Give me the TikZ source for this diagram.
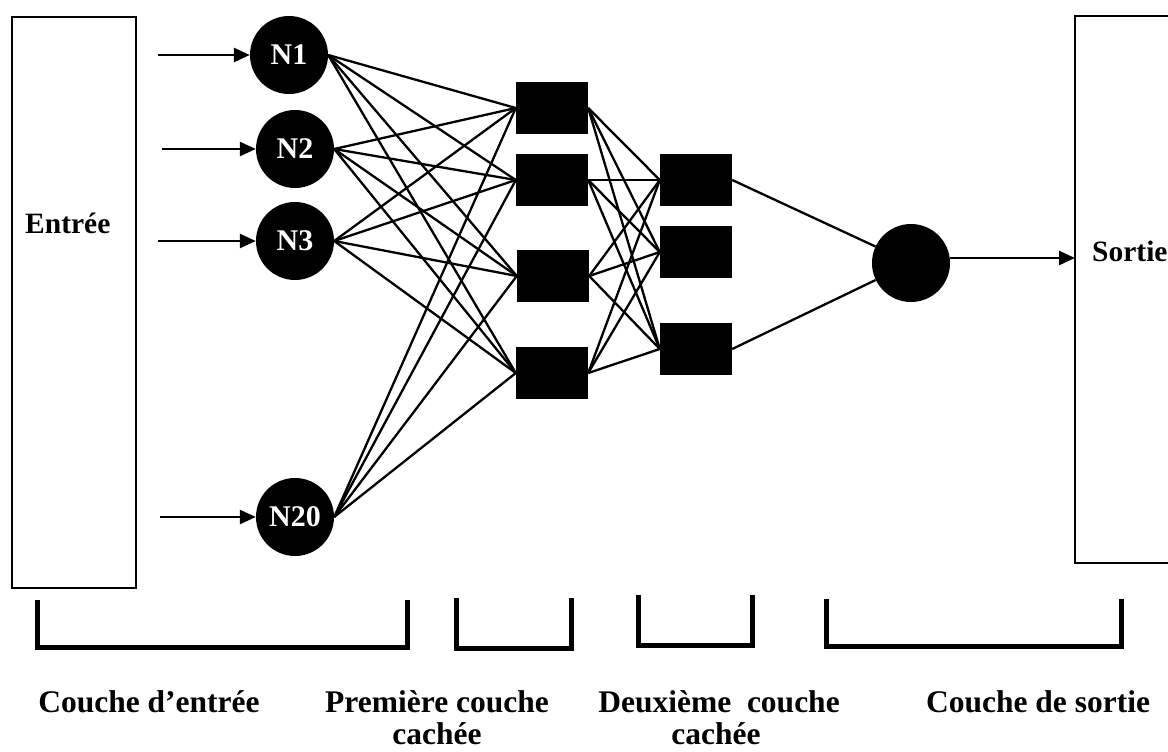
\documentclass[tikz,border=0pt]{standalone}
\usepackage{fontspec}
\setmainfont{Liberation Serif}
\usetikzlibrary{arrows.meta}
\begin{document}
\begin{tikzpicture}[x=1pt,y=-1pt,
  neuron/.style={circle,fill=black,inner sep=0pt,minimum size=78pt,text=white,font=\fontsize{30}{32}\selectfont\bfseries},
  unit/.style={rectangle,fill=black,inner sep=0pt,minimum width=72pt,minimum height=52pt},
  link/.style={line width=2.3pt},
  inarrow/.style={line width=2.6pt,-{Triangle[length=16pt,width=14pt]}},
  bracket/.style={line width=5pt},
  lab/.style={font=\fontsize{31.5}{36}\selectfont\bfseries,inner sep=0pt},
  side/.style={font=\fontsize{29.5}{34}\selectfont\bfseries,inner sep=0pt},
  frame/.style={line width=2pt}]
\useasboundingbox (0,0) rectangle (1168,752);
% input frame
\node[draw,frame,minimum width=124pt,minimum height=571pt,inner sep=0pt] (entree) at (74,302.5) {};
\node[side,anchor=base west] (tentree) at (25,233) {Entrée};
% output frame
\draw[frame] (1170,16) -- (1075,16) -- (1075,563) -- (1170,563);
\coordinate (sortieL) at (1075,258);
\node[side,anchor=base west] (tsortie) at (1092,261) {Sortie};
% input neurons
\node[neuron] (N1) at (289,55) {N1};
\node[neuron] (N2) at (295,149) {N2};
\node[neuron] (N3) at (295,241) {N3};
\node[neuron] (N20) at (295,517) {N20};
\coordinate (i1) at (158,55);
\coordinate (i2) at (162,149);
\coordinate (i3) at (158,241);
\coordinate (i20) at (160,517);
\foreach \n in {1,2,3,20} \draw[inarrow] (i\n) -- (N\n);
% first hidden layer
\node[unit] (S1) at (552,108) {};
\node[unit] (S2) at (552,180) {};
\node[unit] (S3) at (553,276) {};
\node[unit] (S4) at (552,373) {};
% second hidden layer
\node[unit] (A) at (696,180) {};
\node[unit] (B) at (696,252) {};
\node[unit] (C) at (696,349) {};
% output neuron
\node[neuron] (O) at (911,263) {};
% connections
\foreach \n in {1,2,3,20}
  \foreach \s in {S1,S2,S3,S4}
    \draw[link] (N\n.east) -- (\s.west);
\foreach \s in {S1,S2,S3,S4}
  \foreach \t in {A,B,C}
    \draw[link] (\s.east) -- (\t.west);
\draw[link] (A.east) -- (O);
\draw[link] (C.east) -- (O);
\draw[inarrow] (O.east |- sortieL) -- (sortieL);
% brackets
\draw[bracket] (37,600) -- (37,647) -- (407,647) -- (407,600);
\draw[bracket] (456,598) -- (456,648) -- (571,648) -- (571,598);
\draw[bracket] (638,595) -- (638,645) -- (752,645) -- (752,595);
\draw[bracket] (826,599) -- (826,646) -- (1121,646) -- (1121,599);
% labels
\node[lab,anchor=base] (l1) at (149,712) {Couche d’entrée};
\node[lab,anchor=base] (l2a) at (437,712) {Première couche};
\node[lab,anchor=base] (l2b) at (437,744) {cachée};
\node[lab,anchor=base] (l3a) at (719,712) {Deuxième\ \ couche};
\node[lab,anchor=base] (l3b) at (716,744) {cachée};
\node[lab,anchor=base] (l4) at (1038,712) {Couche de sortie};
\end{tikzpicture}
\end{document}
